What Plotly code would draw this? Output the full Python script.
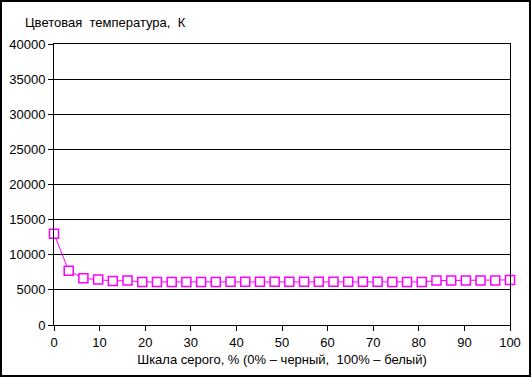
import plotly.graph_objects as go

# Data
gray_pct = [round(i * 100 / 31, 2) for i in range(32)]
color_temp = [13000, 7730, 6640, 6460, 6270, 6320, 6130, 6130, 6130, 6130, 6130, 6130,
              6150, 6150, 6150, 6150, 6150, 6150, 6150, 6150, 6150, 6150, 6150, 6130,
              6130, 6130, 6320, 6320, 6320, 6320, 6320, 6420]
y_ticks = [0, 5000, 10000, 15000, 20000, 25000, 30000, 35000, 40000]
y_labels = [str(v) for v in y_ticks]
x_ticks = [0, 10, 20, 30, 40, 50, 60, 70, 80, 90, 100]

W, H = 531, 377
L, R, T, B = 54, 21, 44, 52
pw, ph = W - L - R, H - T - B

fig = go.Figure()
fig.add_trace(go.Scatter(
    x=gray_pct, y=color_temp, mode="lines+markers",
    line=dict(color="#FF00FF", width=1),
    marker=dict(symbol="square", size=9, color="white",
                line=dict(color="#FF00FF", width=1.5)),
    showlegend=False, cliponaxis=False,
))

font = dict(family="Liberation Sans, Arial, sans-serif", size=13, color="black")

fig.update_layout(
    width=W, height=H,
    margin=dict(l=L, r=R, t=T, b=B, autoexpand=False),
    paper_bgcolor="white", plot_bgcolor="white",
    font=font,
    xaxis=dict(range=[0, 100], tickvals=x_ticks, ticks="outside", ticklen=5,
               tickcolor="black", showline=True, linecolor="black", linewidth=1,
               mirror=True, showgrid=False, zeroline=False,
               title=dict(text="Шкала серого, % (0% – черный,  100% – белый)",
                          font=font, standoff=6)),
    yaxis=dict(range=[0, 40000], tickvals=y_ticks, ticktext=y_labels,
               ticks="outside", ticklen=5,
               tickcolor="black", showline=True, linecolor="black", linewidth=1,
               mirror=True, showgrid=True, gridcolor="black", gridwidth=1,
               zeroline=False),
    annotations=[dict(text="Цветовая  температура,  К", xref="paper", yref="paper",
                      x=(23 - L) / pw, y=(H - B - 23) / ph, xanchor="left",
                      yanchor="middle", showarrow=False, font=font)],
    shapes=[dict(type="rect", xref="paper", yref="paper",
                 x0=(1 - L) / pw, x1=(W - 1 - L) / pw,
                 y0=(H - B - (H - 1)) / ph, y1=(H - B - 1) / ph,
                 line=dict(color="black", width=2))],
)

fig.write_html("out.html", config={"displayModeBar": False},
               post_script="document.body.style.margin='0';")
